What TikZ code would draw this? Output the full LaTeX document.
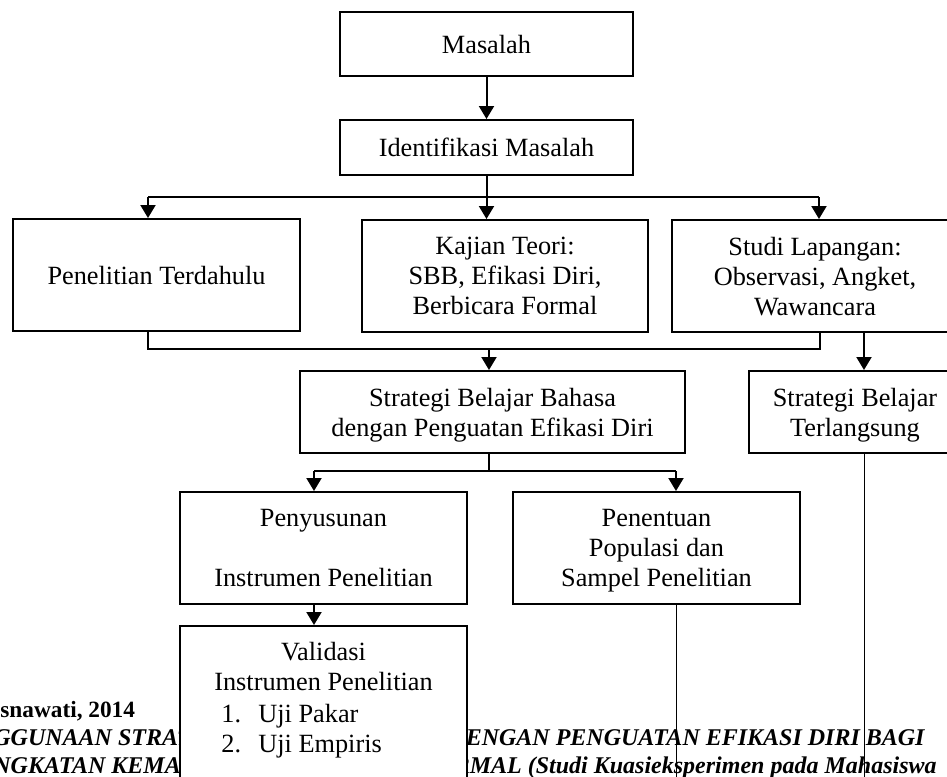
\documentclass[tikz,border=0pt]{standalone}
\usepackage{fontspec}
\setmainfont{Liberation Serif}
\usetikzlibrary{arrows.meta}

\begin{document}
\begin{tikzpicture}
  [x=0.5pt, y=-0.5pt,
   font=\fontsize{13.15pt}{15pt}\selectfont,
   kotak/.style = {draw, fill=white, line width=1pt, align=center, inner sep=0pt, text depth=0pt},
   garis/.style = {line width=1pt},
   panah/.style = {garis, -{Triangle[length=6.5pt,width=7.5pt]}},
   tipis/.style = {line width=0.5pt},
   kaki/.style = {font=\fontsize{12pt}{14pt}\selectfont\bfseries\itshape, inner sep=0pt}]
  \useasboundingbox (0,0) rectangle (947,776);
  \clip (0,0) rectangle (947,776);

  % teks kaki halaman
  \node[kaki, font=\fontsize{11.65pt}{14pt}\selectfont\bfseries, anchor=base west] (nama) at (0,717) {snawati, 2014};
  \node[kaki, anchor=base west] (judul1a) at (-7,745) {GGUNAAN STRAT};
  \node[kaki, anchor=base east] (judul1b) at (925,745) {ENGAN PENGUATAN EFIKASI DIRI BAGI};
  \node[kaki, anchor=base west] (judul2a) at (-7,773) {NGKATAN KEMA};
  \node[kaki, anchor=base east] (judul2b) at (937,773) {RMAL (Studi Kuasieksperimen pada Mahasiswa};

  % kotak
  \node[kotak, minimum width=146.5pt, minimum height=32pt] (mas) at (486.5,44) {Masalah};
  \node[kotak, minimum width=146.5pt, minimum height=27.5pt] (ident) at (486.5,147.5) {Identifikasi Masalah};
  \node[kotak, minimum width=143.5pt, minimum height=56pt] (dahulu) at (156.5,275) {Penelitian Terdahulu};
  \node[kotak, minimum width=143pt, minimum height=56pt] (teori) at (505,276) {Kajian Teori:\\SBB, Efikasi Diri,\\Berbicara Formal};
  \node[kotak, minimum width=143pt, minimum height=56pt] (lapangan) at (815,276) {Studi Lapangan:\\Observasi, Angket,\\Wawancara};
  \node[kotak, minimum width=192.5pt, minimum height=41pt] (sbb) at (492.5,412) {Strategi Belajar Bahasa\\dengan Penguatan Efikasi Diri};
  \node[kotak, minimum width=106pt, minimum height=41pt] (langsung) at (855,412) {Strategi Belajar\\Terlangsung};
  \node[kotak, minimum width=143.5pt, minimum height=56pt] (susun) at (323.5,548) {Penyusunan\\[15pt]Instrumen Penelitian};
  \node[kotak, minimum width=143.5pt, minimum height=56pt] (tentu) at (656.5,548) {Penentuan\\Populasi dan\\Sampel Penelitian};
  \node[kotak, minimum width=143.5pt, minimum height=100pt, anchor=north] (valid) at (323.5,625) {};
  \node[align=center, inner sep=0pt] (validjudul) at (323.5,666) {Validasi\\Instrumen Penelitian};
  \node[align=left, inner sep=0pt, anchor=west] (validuji) at (221,731) {\makebox[18.5pt][l]{1.}Uji Pakar\\\makebox[18.5pt][l]{2.}Uji Empiris};

  % titik cabang
  \coordinate (j1) at (148,197);
  \coordinate (j2) at (819,197);
  \coordinate (j3) at (148,349);
  \coordinate (j4) at (820,349);
  \coordinate (j5) at (489,349);
  \coordinate (j6) at (314,471);
  \coordinate (j7) at (676,471);
  \coordinate (j8) at (864,471);

  % panah
  \draw[panah] (mas) -- (ident);
  \draw[panah] (ident.south) -- (ident.south |- teori.north);
  \draw[garis] (j1) -- (j2);
  \draw[panah] (j1) -- (j1 |- dahulu.north);
  \draw[panah] (j2) -- (j2 |- lapangan.north);
  \draw[garis] (j3 |- dahulu.south) -- (j3) -- (j4) -- (j4 |- lapangan.south);
  \draw[panah] (j5) -- (j5 |- sbb.north);
  \draw[panah] (j8 |- lapangan.south) -- (j8 |- langsung.north);
  \draw[garis] (j5 |- sbb.south) -- (j5 |- j6);
  \draw[garis] (j6) -- (j7);
  \draw[panah] (j6) -- (j6 |- susun.north);
  \draw[panah] (j7) -- (j7 |- tentu.north);
  \draw[panah] (j6 |- susun.south) -- (j6 |- valid.north);
  \draw[tipis] (j7 |- tentu.south) -- ++(0,200);
  \draw[tipis] (j8 |- langsung.south) -- ++(0,400);
\end{tikzpicture}
\end{document}
